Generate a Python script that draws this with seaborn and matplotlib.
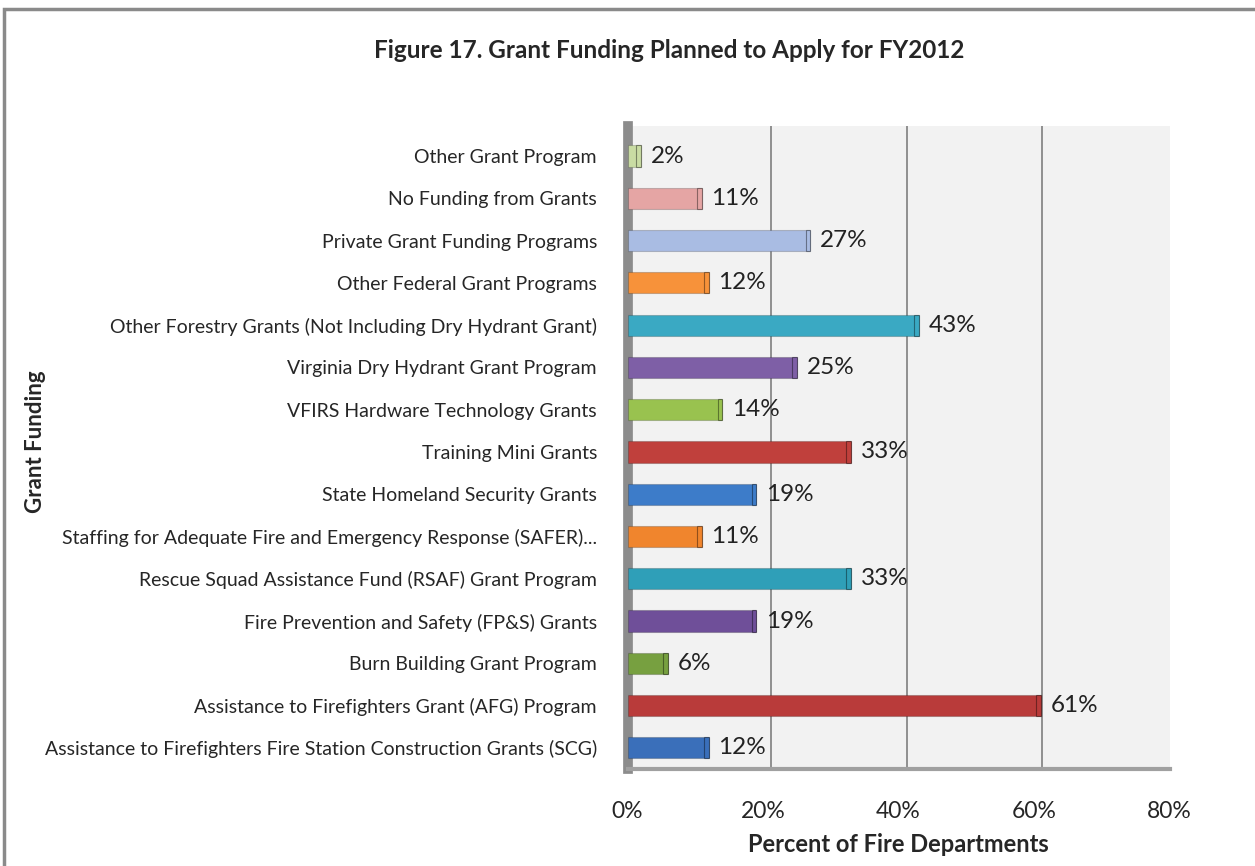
import numpy as np
import matplotlib.pyplot as plt
import matplotlib.patches as mpatches
import seaborn as sns
import pandas as pd

# categories (top to bottom as shown)
programs = [
    "Other Grant Program",
    "No Funding from Grants",
    "Private Grant Funding Programs",
    "Other Federal Grant Programs",
    "Other Forestry Grants (Not Including Dry Hydrant Grant)",
    "Virginia Dry Hydrant Grant Program",
    "VFIRS Hardware Technology Grants",
    "Training Mini Grants",
    "State Homeland Security Grants",
    "Staffing for Adequate Fire and Emergency Response (SAFER)...",
    "Rescue Squad Assistance Fund (RSAF) Grant Program",
    "Fire Prevention and Safety (FP&S) Grants",
    "Burn Building Grant Program",
    "Assistance to Firefighters Grant (AFG) Program",
    "Assistance to Firefighters Fire Station Construction Grants (SCG)",
]
percents = [2, 11, 27, 12, 43, 25, 14, 33, 19, 11, 33, 19, 6, 61, 12]
bar_colors = [
    "#c9dca3", "#e5a5a4", "#a9bce3", "#f7923a", "#3aa9c3",
    "#7e5fa6", "#99c24f", "#c0403c", "#3d7cc9", "#f0852d",
    "#2f9fb8", "#6f4f99", "#77a040", "#b93b3a", "#3a6fba",
]

df = pd.DataFrame({"program": programs, "pct": percents})

sns.set_style("white")
plt.rcParams["font.family"] = ["Lato", "DejaVu Sans"]

fig = plt.figure(figsize=(12.55, 8.66), dpi=100)
fig.patches.append(mpatches.Rectangle((0.003, -0.01), 1.2, 1.0, transform=fig.transFigure,
                                      fill=False, edgecolor="#8a8a8a", linewidth=2.5))
ax = fig.add_axes([0.500, 0.112, 0.432, 0.742])
ax.set_facecolor("#f2f2f2")

sns.barplot(data=df, y="program", x="pct", hue="program", palette=bar_colors,
            legend=False, orient="h", width=0.5, saturation=1, ax=ax, zorder=3,
            edgecolor="#00000030", linewidth=0.8)

# darker end cap for a faux 3D look
for i, (v, c) in enumerate(zip(percents, bar_colors)):
    ax.barh(i, 0.7, left=v - 0.7, height=0.5, color=c, zorder=4,
            edgecolor="#00000066", linewidth=0.8)
    ax.text(v + 1.4, i, f"{v}%", va="center", ha="left", fontsize=17.5,
            color="#222222", zorder=5)

ax.set_xlim(0, 80)
ax.set_ylim(len(programs) - 0.5, -0.7)
ax.set_xticks([0, 20, 40, 60, 80])
ax.set_xticklabels(["0%", "20%", "40%", "60%", "80%"], fontsize=16.5)
for x in [20, 40, 60, 80]:
    ax.axvline(x + 1.2, color="#7f7f7f", linewidth=1.2, zorder=1)

ax.set_yticks(range(len(programs)))
ax.set_yticklabels(programs, fontsize=14)
ax.set_yticks(np.arange(-0.5, len(programs), 1), minor=True)
ax.tick_params(axis="y", which="major", length=0, pad=22)
ax.tick_params(axis="y", which="minor", length=5, color="#7f7f7f", width=1.2)
ax.tick_params(axis="x", length=5, color="#7f7f7f", width=1.2, pad=18)

for side in ["top", "right"]:
    ax.spines[side].set_visible(False)
ax.spines["left"].set_color("#8c8c8c")
ax.spines["left"].set_linewidth(7)
ax.spines["bottom"].set_color("#a0a0a0")
ax.spines["bottom"].set_linewidth(3)

ax.set_xlabel("Percent of Fire Departments", fontsize=17, fontweight="bold", labelpad=8)
ax.set_ylabel("")
fig.text(0.028, 0.49, "Grant Funding", rotation=90, ha="center", va="center",
         fontsize=16, fontweight="bold")

fig.suptitle("Figure 17. Grant Funding Planned to Apply for FY2012", x=0.533, y=0.955,
             fontsize=17.5, fontweight="bold")

fig.savefig("out.png", dpi=100)
